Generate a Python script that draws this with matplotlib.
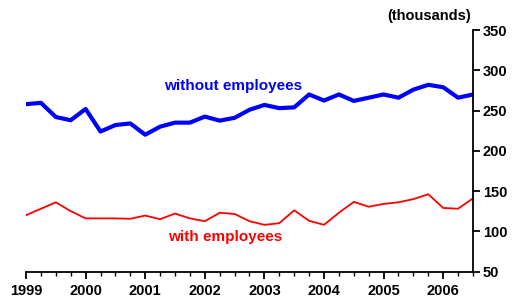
import matplotlib
matplotlib.use('Agg')
from matplotlib import pyplot as plt
from matplotlib.ticker import MultipleLocator

plt.rcParams['font.family'] = ['Liberation Sans', 'DejaVu Sans']
plt.rcParams['font.weight'] = 'bold'

# quarterly data, 1999 Q1 .. 2006 Q3 (thousands)
quarters = [1999 + i * 0.25 for i in range(31)]
without_emp = [258, 259.6, 242, 238, 252, 224, 232, 234, 220, 230, 235, 235,
               242.5, 237.5, 241, 251, 257, 253, 254, 270, 262.5, 270, 262, 266,
               270, 266, 276, 282, 279, 266, 270]
with_emp = [120, 128, 136, 125, 116, 116, 116, 115.5, 119.5, 115, 122, 116,
            112.5, 123, 121.5, 112.5, 108, 110, 126, 113, 108, 123, 136.5, 130.5,
            134, 136, 140, 146, 129, 128, 141]
year_ticks = list(range(1999, 2007))
y_ticks = [50, 100, 150, 200, 250, 300, 350]

fig = plt.figure(figsize=(5.14, 3.01), dpi=100)
ax = fig.add_axes([0.0506, 0.098, 0.8696, 0.802])

ax.plot(quarters, without_emp, color='#0000ff', linewidth=3)
ax.plot(quarters, with_emp, color='#ff0000', linewidth=1.3)

ax.set_xlim(1999, 2006.5)
ax.set_ylim(50, 350)
ax.set_xticks(year_ticks)
ax.xaxis.set_minor_locator(MultipleLocator(0.25))
ax.set_yticks(y_ticks)

ax.yaxis.tick_right()
ax.spines['top'].set_visible(False)
ax.spines['left'].set_visible(False)
ax.spines['right'].set_linewidth(1.3)
ax.spines['bottom'].set_linewidth(1.3)

ax.tick_params(axis='x', which='major', direction='out', length=5, width=1.3,
               labelsize=10.5, pad=4)
ax.tick_params(axis='x', which='minor', direction='out', length=3, width=1.0)
ax.tick_params(axis='y', which='major', direction='out', length=5, width=1.3,
               labelsize=10.5, pad=2, right=True, left=False)

ax.text(2002.48, 280, 'without employees', color='#0000ff', fontsize=11,
        fontweight='bold', ha='center', va='center')
ax.text(2002.35, 92.5, 'with employees', color='#ff0000', fontsize=11,
        fontweight='bold', ha='center', va='center')
fig.text(471 / 514, 1 - 16 / 301, '(thousands)', fontsize=10.5,
         fontweight='bold', ha='right', va='center')

fig.savefig('out.png', dpi=100)
